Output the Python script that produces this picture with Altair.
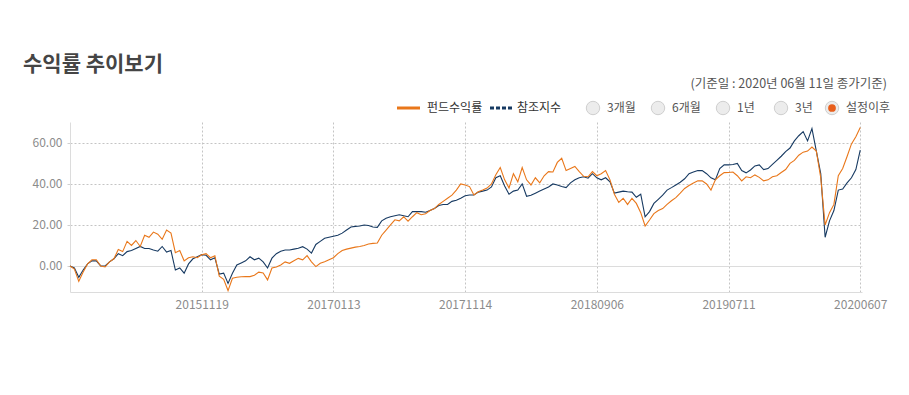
import altair as alt
import pandas as pd

# ---- data ----
fund = [
    0, -1.5, -7.5, -3, 1, 3, 3, 0, -0.5, 2,
    3.5, 8, 7, 12, 10, 12.4, 9.5, 15, 14, 16.5,
    15.5, 13, 17.5, 16, 6.5, 7.5, 2.5, 4, 4.5, 4,
    5.5, 6, 4, 5, -5, -6.5, -12, -6, -5.5, -5.3,
    -5.2, -5.2, -4.5, -3, -3.4, -6.8, -1, -0.5, 0.5, 2,
    1.3, 2.5, 3.7, 3, 5, 2, -0.3, 1.3, 2, 3,
    4, 6, 7.5, 8.2, 8.7, 9.2, 9.5, 10, 10.7, 11,
    11.2, 15, 17.5, 20, 22.5, 22, 24, 21.8, 24, 26,
    25, 25.5, 27, 28, 30, 31.5, 33, 34.5, 37, 40,
    39.5, 38.7, 34.6, 36.2, 37, 38, 40, 44.5, 48, 42,
    38, 45, 41, 48, 42, 39.5, 43, 40.5, 44, 46,
    45.8, 50.5, 52.5, 46.5, 47.5, 48.5, 46, 43.7, 43.5, 46,
    44, 45, 46.5, 42, 35, 31, 33, 30, 33, 30.5,
    26, 19.5, 22.4, 25.5, 27, 28, 30, 31.8, 33.3, 35.5,
    37.8, 39.2, 40.5, 41.5, 41.5, 40, 37, 42, 44, 45.5,
    45.6, 45.8, 44, 41.5, 43.5, 43, 44.4, 43.2, 41.5, 42,
    43.5, 44, 45.6, 47, 50, 51.5, 54, 55.5, 56, 58,
    56, 43, 20, 26, 30, 44, 47.5, 53.4, 59.5, 63,
    67.5,
]
bench = [
    0, -1, -5.5, -2, 1, 2.5, 2.5, 0, 0, 2,
    3.5, 6, 5, 7, 7.5, 8.5, 9.5, 8.5, 8.5, 7.8,
    7.2, 9.5, 6.8, 7.5, -2, -1, -3.5, 1, 3.5, 4.5,
    5.5, 5.2, 3, 4, -4, -3.5, -8.5, -3.6, 0.5, 1.5,
    2.5, 4.5, 3, 3.8, 2, -1, 3.8, 6, 7.2, 7.8,
    7.8, 8.2, 8.6, 9.4, 8.2, 6.3, 10.5, 12, 13.5, 14,
    14.5, 15, 16, 17.5, 19, 19.3, 19.5, 20, 19.7, 19,
    18.8, 22, 23.3, 24, 24.5, 25, 24.5, 24, 26.5, 26.5,
    26.5, 26.2, 27, 28, 29.5, 30, 30, 31.5, 32, 33,
    34.2, 34.6, 34.6, 36, 36.5, 37, 38.5, 43, 44, 39,
    35, 36.5, 37, 40, 34, 34.5, 35.5, 36.5, 37.5, 38.5,
    40, 39.5, 38.7, 38.2, 40.5, 42, 43, 43.5, 42.8, 45,
    43, 42, 43, 41, 35.5, 36, 36.5, 36.2, 36, 33.5,
    35, 24, 26.5, 30.5, 32.5, 34.5, 37, 38.2, 39.5, 40.8,
    42.5, 45, 45.8, 46.5, 46.5, 45, 43, 42, 47.5, 49.3,
    49.3, 49.5, 50, 46.5, 45.4, 46.8, 48.8, 49.3, 47, 47.5,
    49.5, 51.5, 53.5, 55.8, 57.5, 61, 63.5, 65.5, 61, 67,
    56, 45, 14, 22, 27, 37, 37.5, 40.5, 43, 47,
    56.5,
]
tick_pos = [30, 60, 90, 120, 150, 180]
tick_labels = ["20151119", "20170113", "20171114", "20180906", "20190711", "20200607"]
y_ticks = [0, 20, 40, 60]
series_names = ["펀드수익률", "참조지수"]
period_options = ["3개월", "6개월", "1년", "3년", "설정이후"]
selected_period = "설정이후"
title_text = "수익률 추이보기"
subtitle_text = "(기준일 : 2020년 06월 11일 종가기준)"

ORANGE = "#e9771a"
NAVY = "#173a62"
FONT = "Noto Sans CJK KR"

df = pd.DataFrame({"day": list(range(len(fund))), "fund": fund, "bench": bench})

label_expr = "".join(
    f"datum.value == {p} ? '{l}' : " for p, l in zip(tick_pos, tick_labels)
) + "''"

x_enc = alt.X(
    "day:Q",
    scale=alt.Scale(domain=[0, 180.4], nice=False, zero=False),
    axis=alt.Axis(
        values=tick_pos, labelExpr=label_expr, title=None, ticks=False,
        grid=True, gridDash=[2, 2], gridColor="#c4c4c4",
        domainColor="#dcdcdc", labelColor="#8c8c8c", labelFontSize=12,
        labelFont=FONT, labelPadding=7,
    ),
)

def y_enc(field):
    return alt.Y(
        f"{field}:Q",
        scale=alt.Scale(domain=[-12.7, 70.2], nice=False, zero=False),
        axis=alt.Axis(
            values=y_ticks, format=".2f", title=None,
            tickSize=3, tickColor="#d0d0d0",
            grid=True,
            gridDash={"condition": {"test": "datum.value === 0", "value": []}, "value": [2, 2]},
            gridColor={"condition": {"test": "datum.value === 0", "value": "#dcdcdc"}, "value": "#c4c4c4"},
            domainColor="#dcdcdc", labelColor="#8c8c8c", labelFontSize=12,
            labelFont=FONT, labelPadding=5,
        ),
    )

bench_line = alt.Chart(df).mark_line(color=NAVY, strokeWidth=1.1).encode(x=x_enc, y=y_enc("bench"))
fund_line = alt.Chart(df).mark_line(color=ORANGE, strokeWidth=1.1).encode(x=x_enc, y=y_enc("fund"))

one = pd.DataFrame({"k": [0]})

def text_layer(txt, x, y, size=12, color="#444", weight="normal", align="left", spacing=0):
    return alt.Chart(one).mark_text(
        text=txt, align=align, baseline="middle", font=FONT, fontSize=size,
        color=color, fontWeight=weight, limit=0,
    ).encode(x=alt.value(x), y=alt.value(y))

layers = [bench_line, fund_line]

# title and subtitle
layers.append(text_layer(title_text, -47, -57, size=21, color="#454545", weight="bold"))
layers.append(text_layer(subtitle_text, 817, -38, size=12.5, color="#555555", align="right"))

# custom legend
ly = -14
layers.append(alt.Chart(one).mark_rule(color=ORANGE, strokeWidth=3).encode(
    x=alt.value(327), x2=alt.value(350), y=alt.value(ly)))
layers.append(text_layer(series_names[0], 357, ly, size=12, color="#333333"))
layers.append(alt.Chart(one).mark_rule(color=NAVY, strokeWidth=3, strokeDash=[4, 2]).encode(
    x=alt.value(420), x2=alt.value(443), y=alt.value(ly)))
layers.append(text_layer(series_names[1], 447, ly, size=12, color="#333333"))

# radio buttons
radio_cx = [523, 588, 653, 711, 762]
for cx, opt in zip(radio_cx, period_options):
    layers.append(alt.Chart(one).mark_point(
        shape="circle", size=180, filled=True, fill="#ececec", stroke="#cfcfcf", strokeWidth=1, opacity=1,
    ).encode(x=alt.value(cx), y=alt.value(ly)))
    if opt == selected_period:
        layers.append(alt.Chart(one).mark_point(
            shape="circle", size=60, filled=True, color="#e85f1c", opacity=1,
        ).encode(x=alt.value(cx), y=alt.value(ly)))
    layers.append(text_layer(opt, cx + 14, ly, size=12, color="#555555"))

chart = alt.layer(*layers).properties(
    width=792, height=170,
    padding={"left": 62, "top": 114, "right": 30, "bottom": 60},
    autosize=alt.AutoSizeParams(type="none"),
    background="white",
).configure_view(stroke=None)

chart.save("out.html", embed_options={"renderer": "svg", "actions": False})
